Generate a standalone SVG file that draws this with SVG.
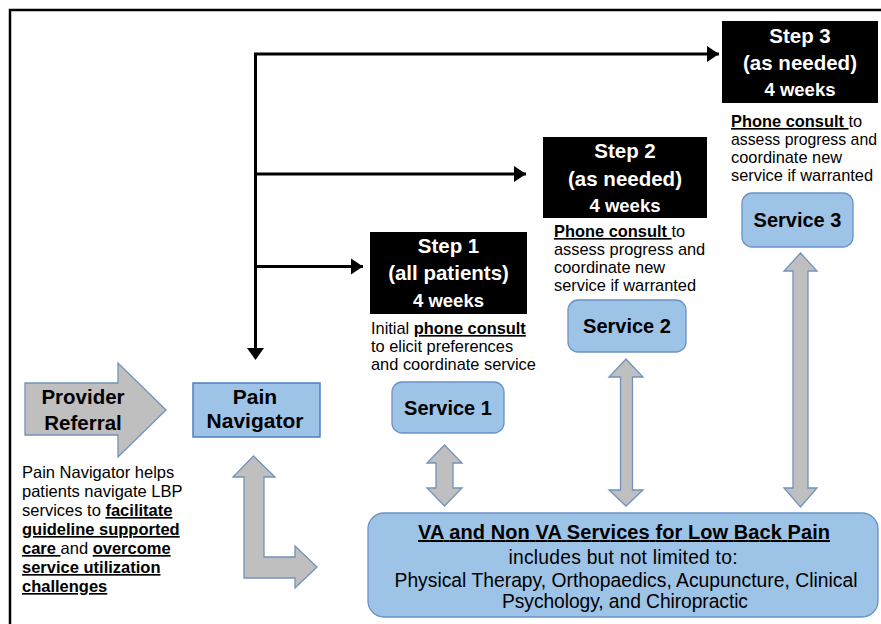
<svg xmlns="http://www.w3.org/2000/svg" width="881" height="624" viewBox="0 0 881 624">
  <defs>
    <marker id="arrowhead" markerUnits="userSpaceOnUse" markerWidth="14" markerHeight="18" viewBox="0 0 14 18" refX="12" refY="9" orient="auto">
      <path d="M0,1 L12,9 L0,17 Z" fill="#000"/>
    </marker>
    <style>
      text { font-family: "Liberation Sans", Arial, sans-serif; fill: #000; }
      .b { font-weight: bold; }
      .u { text-decoration: underline; }
      .white { fill: #fff; font-weight: bold; }
      .step { fill: #000; }
      .svc { fill: #9DC3E6; stroke: #6A92C4; stroke-width: 1.3; }
      .nav { fill: #9DC3E6; stroke: #4F7FBF; stroke-width: 1.5; }
      .grey { fill: #BFBFBF; stroke: #7292BC; stroke-width: 1.3; stroke-linejoin: miter; }
      .link { fill: none; stroke: #000; stroke-width: 3; }
      .desc { font-size: 16.4px; }
      .svcLabel { font-size: 20px; font-weight: bold; text-anchor: middle; }
    </style>
  </defs>

  <rect width="881" height="624" fill="#fff"/>
  <!-- outer frame -->
  <rect x="10" y="10" width="900" height="700" fill="none" stroke="#000" stroke-width="2.5"/>

  <!-- connectors from the Pain Navigator trunk -->
  <g id="connectors">
    <path class="link" d="M255.5,54 L255.5,349"/>
    <path d="M247,348 L264,348 L255.5,360 Z" fill="#000"/>
    <path class="link" d="M254,54 L719,54" marker-end="url(#arrowhead)"/>
    <path class="link" d="M254,174 L526,174" marker-end="url(#arrowhead)"/>
    <path class="link" d="M254,266.5 L363,266.5" marker-end="url(#arrowhead)"/>

    <!-- block double arrows between services and the service pool -->
    <polygon class="grey" points="444.5,445 462,463 453,463 453,488 462,488 444.5,506 427,488 436,488 436,463 427,463"/>
    <polygon class="grey" points="626,359 643,377 632.5,377 632.5,490 643,490 626,506 609,490 620.5,490 620.5,377 609,377"/>
    <polygon class="grey" points="800.5,253 817,271 808,271 808,488 817,488 800.5,507 784,488 793,488 793,271 784,271"/>

    <!-- bent arrow from Pain Navigator to the service pool -->
    <polygon class="grey" points="253.5,456 275,477 264,477 264,557 295,557 295,546 317,567 295,588 295,578 244,578 244,477 233,477"/>
  </g>

  <!-- Provider Referral -->
  <g id="provider-referral">
    <polygon class="grey" points="25,383 118,383 118,363 166,410 118,457 118,435 25,435"/>
    <text x="83" y="404" font-size="20.5" class="b" text-anchor="middle">Provider</text>
    <text x="83" y="430" font-size="20.5" class="b" text-anchor="middle">Referral</text>
  </g>

  <!-- Pain Navigator -->
  <g id="pain-navigator">
    <rect class="nav" x="193" y="383" width="127" height="54"/>
    <text x="255" y="404" font-size="21" class="b" text-anchor="middle">Pain</text>
    <text x="255" y="428" font-size="21" class="b" text-anchor="middle">Navigator</text>
  </g>

  <!-- description of the navigator role -->
  <g id="navigator-note" style="font-size:16.5px">
    <text x="22" y="478">Pain Navigator helps</text>
    <text x="22" y="497">patients navigate LBP</text>
    <text x="22" y="516">services to <tspan class="b u">facilitate</tspan></text>
    <text x="22" y="535" class="b u">guideline supported</text>
    <text x="22" y="554"><tspan class="b u">care </tspan>and <tspan class="b u">overcome</tspan></text>
    <text x="22" y="573" class="b u">service utilization</text>
    <text x="22" y="592" class="b u">challenges</text>
  </g>

  <!-- Step 1 -->
  <g id="step1">
    <rect class="step" x="370" y="232" width="157" height="82"/>
    <text class="white" x="448.5" y="253" font-size="20.5" text-anchor="middle">Step 1</text>
    <text class="white" x="448.5" y="280" font-size="20.5" text-anchor="middle">(all patients)</text>
    <text class="white" x="448.5" y="307" font-size="18.5" text-anchor="middle">4 weeks</text>
    <text class="desc" x="371" y="334">Initial <tspan class="b u">phone consult</tspan></text>
    <text class="desc" x="371" y="352">to elicit preferences</text>
    <text class="desc" x="371" y="370">and coordinate service</text>
  </g>

  <!-- Step 2 -->
  <g id="step2">
    <rect class="step" x="543" y="137" width="164" height="81"/>
    <text class="white" x="625" y="158" font-size="20.5" text-anchor="middle">Step 2</text>
    <text class="white" x="625" y="186" font-size="20.5" text-anchor="middle">(as needed)</text>
    <text class="white" x="625" y="212" font-size="18.5" text-anchor="middle">4 weeks</text>
    <text class="desc" x="554" y="237"><tspan class="b u">Phone consult </tspan>to</text>
    <text class="desc" x="554" y="255">assess progress and</text>
    <text class="desc" x="554" y="273">coordinate new</text>
    <text class="desc" x="554" y="291">service if warranted</text>
  </g>

  <!-- Step 3 -->
  <g id="step3">
    <rect class="step" x="722" y="21" width="156" height="82"/>
    <text class="white" x="800" y="43" font-size="20.5" text-anchor="middle">Step 3</text>
    <text class="white" x="800" y="70" font-size="20.5" text-anchor="middle">(as needed)</text>
    <text class="white" x="800" y="96" font-size="18.5" text-anchor="middle">4 weeks</text>
    <text class="desc" x="731" y="127"><tspan class="b u">Phone consult </tspan>to</text>
    <text class="desc" x="731" y="145" textLength="146" lengthAdjust="spacingAndGlyphs">assess progress and</text>
    <text class="desc" x="731" y="163">coordinate new</text>
    <text class="desc" x="731" y="181">service if warranted</text>
  </g>

  <!-- Services -->
  <g id="service1">
    <rect class="svc" x="392" y="382" width="112" height="51" rx="10"/>
    <text class="svcLabel" x="448" y="415">Service 1</text>
  </g>
  <g id="service2">
    <rect class="svc" x="568" y="300" width="118" height="52" rx="10"/>
    <text class="svcLabel" x="627" y="333">Service 2</text>
  </g>
  <g id="service3">
    <rect class="svc" x="742" y="193" width="111" height="54" rx="10"/>
    <text class="svcLabel" x="797.5" y="227">Service 3</text>
  </g>

  <!-- Service pool -->
  <g id="service-pool">
    <rect class="svc" x="368" y="513" width="510" height="104" rx="16"/>
    <text x="624" y="539" font-size="20" class="b u" text-anchor="middle" textLength="412">VA and Non VA Services for Low Back Pain</text>
    <text x="623" y="564" font-size="19.3" text-anchor="middle" textLength="229">includes but not limited to:</text>
    <text x="626" y="587" font-size="19.3" text-anchor="middle" textLength="463">Physical Therapy, Orthopaedics, Acupuncture, Clinical</text>
    <text x="625" y="608" font-size="19.3" text-anchor="middle" textLength="246">Psychology, and Chiropractic</text>
  </g>
</svg>
